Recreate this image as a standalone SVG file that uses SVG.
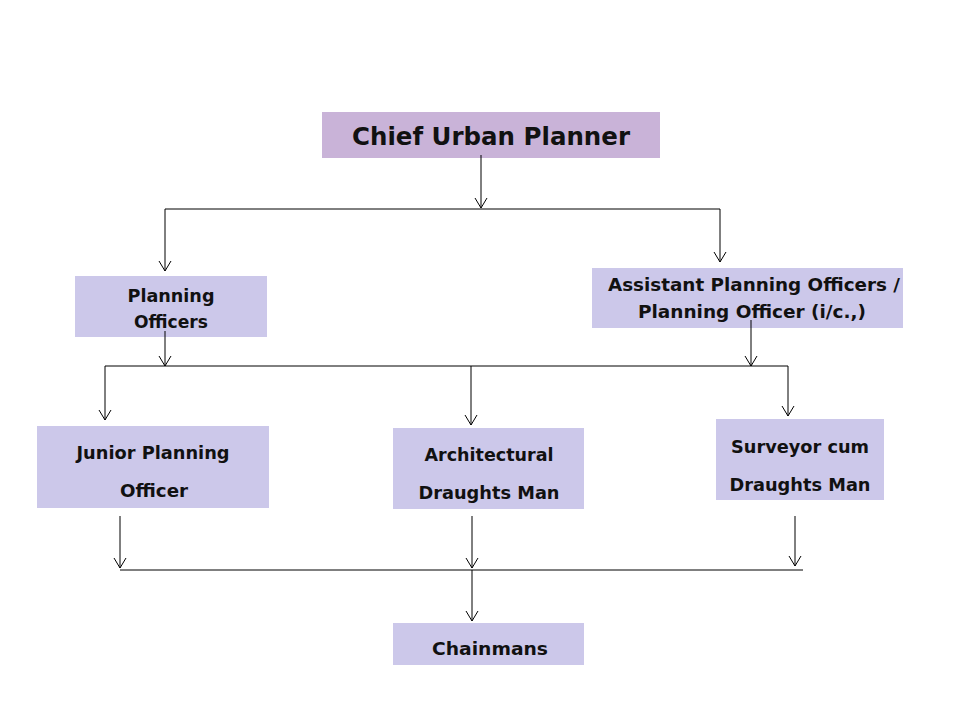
<svg xmlns="http://www.w3.org/2000/svg" width="960" height="720" viewBox="0 0 960 720">
<defs>
<marker id="arr" markerWidth="14" markerHeight="14" refX="11" refY="7" orient="auto" markerUnits="userSpaceOnUse" viewBox="0 0 14 14">
<polyline points="1,1 11,7 1,13" fill="none" stroke="#000" stroke-width="1"/>
</marker>
<style>
.box{fill:#CCC8EA}
.top{fill:#C9B3D8}
.t{font-family:"DejaVu Sans","Liberation Sans",sans-serif;font-weight:bold;font-size:18px;fill:#111;text-anchor:middle}
.tt{font-size:25px}
.ln{stroke:#000;stroke-width:1;fill:none}
.ar{stroke:#000;stroke-width:1;fill:none;marker-end:url(#arr)}
</style>
</defs>
<rect width="960" height="720" fill="#fff"/>
<g id="chief"><rect class="top" x="322" y="112" width="338" height="46"/><text class="t tt" x="491" y="145" textLength="278" lengthAdjust="spacingAndGlyphs">Chief Urban Planner</text></g>
<g id="planning-officers"><rect class="box" x="75" y="276" width="192" height="61"/><text class="t" x="171" y="302" textLength="87" lengthAdjust="spacingAndGlyphs">Planning</text><text class="t" x="171" y="328" textLength="74" lengthAdjust="spacingAndGlyphs">Officers</text></g>
<g id="assistant"><rect class="box" x="592" y="268" width="311" height="60"/><text class="t" x="754" y="291" textLength="292" lengthAdjust="spacingAndGlyphs">Assistant Planning Officers /</text><text class="t" x="752" y="318" textLength="228" lengthAdjust="spacingAndGlyphs">Planning Officer (i/c.,)</text></g>
<g id="junior"><rect class="box" x="37" y="426" width="232" height="82"/><text class="t" x="153" y="459" textLength="153" lengthAdjust="spacingAndGlyphs">Junior Planning</text><text class="t" x="154" y="497" textLength="68" lengthAdjust="spacingAndGlyphs">Officer</text></g>
<g id="architectural"><rect class="box" x="393" y="428" width="191" height="81"/><text class="t" x="489" y="461" textLength="129" lengthAdjust="spacingAndGlyphs">Architectural</text><text class="t" x="489" y="499" textLength="141" lengthAdjust="spacingAndGlyphs">Draughts Man</text></g>
<g id="surveyor"><rect class="box" x="716" y="419" width="168" height="81"/><text class="t" x="800" y="453" textLength="138" lengthAdjust="spacingAndGlyphs">Surveyor cum</text><text class="t" x="800" y="491" textLength="141" lengthAdjust="spacingAndGlyphs">Draughts Man</text></g>
<g id="chainmans"><rect class="box" x="393" y="623" width="191" height="42"/><text class="t" x="490" y="655" textLength="116" lengthAdjust="spacingAndGlyphs">Chainmans</text></g>
<g id="connectors">
<line class="ar" x1="481" y1="155" x2="481" y2="208"/>
<line class="ln" x1="167" y1="209" x2="720" y2="209"/>
<polyline class="ar" points="167,209 165,209 165,271"/>
<line class="ar" x1="720" y1="209" x2="720" y2="262"/>
<line class="ar" x1="165" y1="331" x2="165" y2="366"/>
<line class="ar" x1="751" y1="320" x2="751" y2="366"/>
<line class="ln" x1="105" y1="366" x2="788" y2="366"/>
<line class="ar" x1="105" y1="366" x2="105" y2="420"/>
<line class="ar" x1="471" y1="366" x2="471" y2="425"/>
<line class="ar" x1="788" y1="366" x2="788" y2="416"/>
<line class="ar" x1="120" y1="516" x2="120" y2="568"/>
<line class="ar" x1="472" y1="516" x2="472" y2="568"/>
<line class="ar" x1="795" y1="516" x2="795" y2="566"/>
<line class="ln" x1="120" y1="570" x2="803" y2="570"/>
<line class="ar" x1="472" y1="570" x2="472" y2="621"/>
</g>
</svg>
